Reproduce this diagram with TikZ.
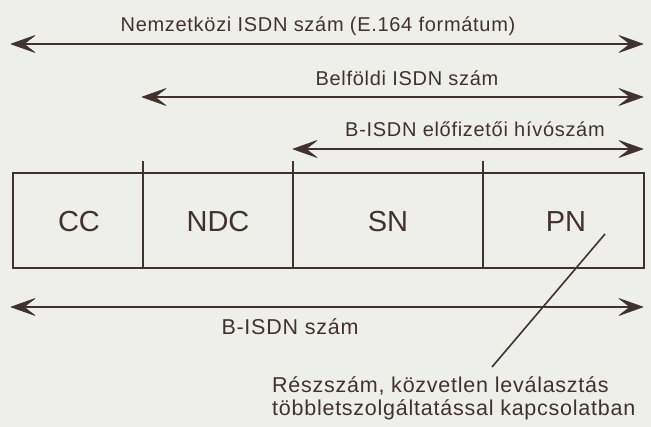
\documentclass[tikz,border=0pt]{standalone}
\usepackage{fontspec}
\setmainfont{Liberation Sans}
\newfontfamily\lblfont[LetterSpace=3.5]{Liberation Sans}
\usetikzlibrary{arrows.meta}
\definecolor{ink}{RGB}{66,50,46}
\definecolor{paper}{RGB}{238,238,235}
\tikzset{
  dim/.style={ink, line width=1.8pt},
  head/.style={fill=ink, draw=ink, line width=0.6pt, line join=round},
  lbl/.style={ink, font=\lblfont\fontsize{20}{22}\selectfont, inner sep=0pt, anchor=base},
  lblbig/.style={lbl, font=\lblfont\fontsize{21.5}{24}\selectfont},
  note/.style={lblbig, anchor=base west},
  cell/.style={ink, font=\fontsize{29}{30}\selectfont, inner sep=0pt},
  box/.style={ink, line width=2.6pt},
  divider/.style={ink, line width=1.4pt},
}
\begin{document}
\begin{tikzpicture}[yscale=-1, x=1pt, y=1pt]
\fill[paper] (0,0) rectangle (651,427);
\useasboundingbox (0,0) rectangle (651,427);
% dimension arrows
\coordinate (a1l) at (11,44);  \coordinate (a1r) at (643,44);
\coordinate (a2l) at (142,97); \coordinate (a2r) at (643,97);
\coordinate (a3l) at (293,149);\coordinate (a3r) at (643,149);
\coordinate (a4l) at (11,307); \coordinate (a4r) at (643,307);
\foreach \n in {a1,a2,a3,a4}{
  \draw[dim] ([xshift=10pt]\n l) -- ([xshift=-10pt]\n r);
  \draw[head] (\n l) -- ++(24,-8.5) -- ++(-11,8.5) -- ++(11,8.5) -- cycle;
  \draw[head] (\n r) -- ++(-24,-8.5) -- ++(11,8.5) -- ++(-11,8.5) -- cycle;
}
\node[lbl] (t1) at (318,32) {Nemzetközi ISDN szám (E.164 formátum)};
\node[lbl] (t2) at (407,86) {Belföldi ISDN szám};
\node[lbl] (t3) at (475,137) {B-ISDN előfizetői hívószám};
\node[lblbig] (t4) at (290,335) {B-ISDN szám};
% box
\coordinate (bl) at (13,268); \coordinate (tr) at (644,173);
\foreach \x/\n in {143/d1,293/d2,483/d3}{
  \coordinate (\n t) at (\x,161);
  \coordinate (\n b) at (\x,268);
  \draw[divider] (\n t) -- (\n b);
}
\draw[box] (bl) rectangle (tr);
\node[cell] (cc) at (79,222) {CC};
\node[cell] (ndc) at (218,222) {NDC};
\node[cell] (sn) at (388,222) {SN};
\node[cell] (pn) at (566,222) {PN};
% pointer
\coordinate (p1) at (605,234);
\coordinate (p2) at (492,367);
\draw[ink, line width=1.6pt] (p1) -- (p2);
\node[note] (n1) at (272,393) {Részszám, közvetlen leválasztás};
\node[note] (n2) at (272,416) {többletszolgáltatással kapcsolatban};
\end{tikzpicture}
\end{document}
